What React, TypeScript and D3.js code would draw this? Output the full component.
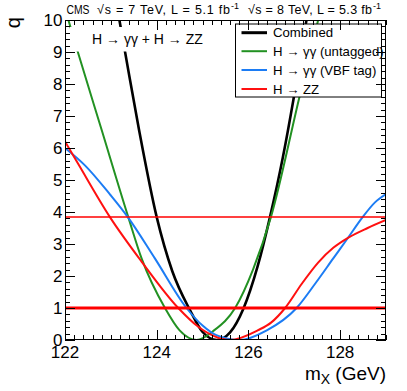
import React from "react";
import * as d3 from "d3";

// scan values: m_X (GeV) and q
const combM = [123.0, 123.31, 123.61, 124.0, 124.34, 124.72, 125.0, 125.31, 125.6, 125.89, 126.2, 126.47, 126.75, 126.98, 127.3, 127.45];
const combQ = [11.5, 9.0, 6.6, 3.84, 2.15, 0.95, 0.25, 0.0, 0.24, 0.98, 2.3, 3.84, 5.7, 7.5, 10.3, 11.6];

const untagM = [121.95, 122.28, 122.8, 123.38, 123.67, 124.18, 124.5, 124.87, 125.25, 125.71, 126.1, 126.49, 127.11, 127.52, 127.7];
const untagQ = [10.6, 9.0, 6.56, 3.84, 2.55, 1.0, 0.3, 0.0, 0.3, 1.0, 2.2, 3.84, 7.58, 10.0, 11.2];

const vbfM = [122.0, 122.44, 122.98, 123.37, 123.96, 124.65, 125.0, 125.3, 125.8, 126.4, 127.05, 127.45, 127.85, 128.18, 128.47, 128.76, 129.0];
const vbfQ = [6.0, 5.45, 4.55, 3.84, 2.55, 1.0, 0.45, 0.15, 0.0, 0.3, 1.0, 1.75, 2.55, 3.21, 3.8, 4.3, 4.56];

const zzM = [122.0, 122.28, 122.98, 123.67, 124.47, 124.9, 125.25, 125.6, 126.2, 126.5, 126.8, 127.16, 127.52, 127.85, 128.18, 128.6, 129.0];
const zzQ = [6.2, 5.52, 3.84, 2.45, 1.0, 0.42, 0.12, 0.0, 0.3, 0.55, 1.0, 1.75, 2.42, 2.88, 3.2, 3.5, 3.75];

const thresholds = [1, 3.84];
const xTicks = [122, 124, 126, 128];
const yTicks = [0, 1, 2, 3, 4, 5, 6, 7, 8, 9, 10];

const series = [
  { name: "Combined", m: combM, q: combQ, color: "#000000", w: 2.6 },
  { name: "H \u2192 \u03b3\u03b3 (untagged)", m: untagM, q: untagQ, color: "#229122", w: 2 },
  { name: "H \u2192 \u03b3\u03b3 (VBF tag)", m: vbfM, q: vbfQ, color: "#1c7cf4", w: 2 },
  { name: "H \u2192 ZZ", m: zzM, q: zzQ, color: "#ff1010", w: 2 },
];

const W = 407;
const H = 391;
const left = 65, right = 386, top = 20, bottom = 340;
const font = "'Liberation Sans', Arial, Helvetica, sans-serif";

export default function App() {
  const x = d3.scaleLinear().domain([122, 129]).range([left, right]);
  const y = d3.scaleLinear().domain([0, 10]).range([bottom, top]);

  const makePath = (m: number[], q: number[]) =>
    d3
      .line<[number, number]>()
      .x((d) => x(d[0]))
      .y((d) => y(d[1]))
      .curve(d3.curveMonotoneX)(m.map((v, i) => [v, q[i]] as [number, number])) || "";

  const xMinor = d3.range(122, 129.001, 0.2);
  const yMinor = d3.range(0, 10.001, 0.2);
  const isMajor = (v: number, step: number) => Math.abs(v / step - Math.round(v / step)) < 1e-6;

  const legendRows = [32.7, 51.2, 70, 89];

  return (
    <svg width={W} height={H} style={{ position: "absolute", left: 0, top: 0, background: "#fff" }} fontFamily={font}>
      <defs>
        <clipPath id="plot">
          <rect x={left} y={top} width={right - left} height={bottom - top} />
        </clipPath>
      </defs>

      <g clipPath="url(#plot)">
        {series.map((s) => (
          <path key={s.name} d={makePath(s.m, s.q)} fill="none" stroke={s.color} strokeWidth={s.w} />
        ))}
        {thresholds.map((t, i) => (
          <line key={t} x1={left} x2={right} y1={y(t)} y2={y(t)} stroke="#ff0000" strokeWidth={i === 0 ? 3 : 1.5} />
        ))}
      </g>

      {/* label box */}
      <rect x={70} y={27} width={150} height={24.5} fill="#fff" />
      <text x={92} y={43.5} fontSize={14}>H {"\u2192"} {"\u03b3\u03b3"} + H {"\u2192"} ZZ</text>

      {/* legend */}
      <rect x={235.5} y={24} width={146} height={73} fill="#fff" stroke="#000" strokeWidth={1} />
      {series.map((s, i) => (
        <g key={s.name}>
          <line x1={241.5} x2={267} y1={legendRows[i]} y2={legendRows[i]} stroke={s.color} strokeWidth={i === 0 ? 3 : 2} />
          <text x={273} y={legendRows[i]} dy="0.36em" fontSize={13.2}>{s.name}</text>
        </g>
      ))}

      {/* ticks */}
      <g stroke="#000" strokeWidth={1}>
        {xMinor.map((v) => {
          const len = isMajor(v - 122, 2) ? 10 : 5;
          const px = Math.round(x(v)) + 0.5;
          return (
            <g key={"x" + v}>
              <line x1={px} x2={px} y1={bottom} y2={bottom - len} />
              <line x1={px} x2={px} y1={top} y2={top + len} />
            </g>
          );
        })}
        {yMinor.map((v) => {
          const len = isMajor(v, 1) ? 10 : 5;
          const py = Math.round(y(v)) + 0.5;
          return (
            <g key={"y" + v}>
              <line x1={left} x2={left + len} y1={py} y2={py} />
              <line x1={right} x2={right - len} y1={py} y2={py} />
            </g>
          );
        })}
      </g>

      <rect x={left + 0.5} y={top + 0.5} width={right - left - 1} height={bottom - top - 1} fill="none" stroke="#000" strokeWidth={1} />

      {xTicks.map((t) => (
        <text key={t} x={x(t)} y={357.5} fontSize={17} textAnchor="middle">{t}</text>
      ))}
      {yTicks.map((t) => (
        <text key={t} x={62.5} y={y(t)} dy="0.36em" fontSize={17} textAnchor="end">{t}</text>
      ))}

      <text x={386} y={380} fontSize={19} textAnchor="end">
        m<tspan fontSize={14} dy={4}>X</tspan><tspan dy={-4}> (GeV)</tspan>
      </text>
      <text transform="translate(20,17) rotate(-90)" fontSize={20} textAnchor="end">q</text>

      <g fontSize={12.5}>
        <text x={66.5} y={14} textLength={23} lengthAdjust="spacingAndGlyphs">CMS</text>
        <text x={97} y={14} textLength={133} lengthAdjust="spacing">{"\u221as = 7 TeV, L = 5.1 fb"}</text>
        <text x={231} y={9} fontSize={9}>-1</text>
        <text x={248} y={14} textLength={124} lengthAdjust="spacing">{"\u221as = 8 TeV, L = 5.3 fb"}</text>
        <text x={373} y={9} fontSize={9}>-1</text>
      </g>
    </svg>
  );
}
